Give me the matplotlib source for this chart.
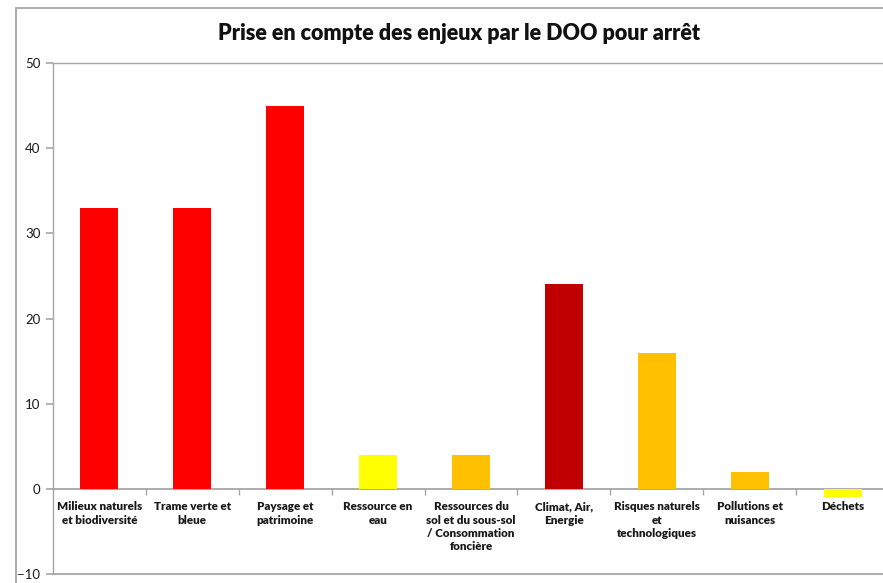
import matplotlib
matplotlib.use("Agg")
import matplotlib.pyplot as plt
from matplotlib.patches import Rectangle
from matplotlib.ticker import FixedLocator

categories = ["Milieux naturels\net biodiversité", "Trame verte et\nbleue", "Paysage et\npatrimoine",
              "Ressource en\neau", "Ressources du\nsol et du sous-sol\n/ Consommation\nfoncière",
              "Climat, Air,\nEnergie", "Risques naturels\net\ntechnologiques", "Pollutions et\nnuisances",
              "Déchets"]
values = [33, 33, 45, 4, 4, 24, 16, 2, -1]
colors = ["#FF0000", "#FF0000", "#FF0000", "#FFFF00", "#FFC000", "#C00000", "#FFC000", "#FFC000", "#FFFF00"]
yticks = [-10, 0, 10, 20, 30, 40, 50]
title = "Prise en compte des enjeux par le DOO pour arrêt"

W, H = 883, 583
fig = plt.figure(figsize=(W / 100, H / 100), dpi=100)
fig.patch.set_facecolor("white")

grey = "#A6A6A6"
fig.patches.append(Rectangle((16 / W, -0.05), 1.2, 1 - 8 / H + 0.05, transform=fig.transFigure,
                             fill=False, edgecolor=grey, linewidth=1.3, zorder=0))

left, right, top, bottom = 53, 889, 63, 574
ax = fig.add_axes([left / W, (H - bottom) / H, (right - left) / W, (bottom - top) / H])
x = list(range(len(categories)))
ax.bar(x, values, width=0.41, color=colors, zorder=3)
ax.set_xlim(-0.5, len(categories) - 0.5)
ax.set_ylim(-10, 50)
ax.set_yticks(yticks)

for s in ["left", "top", "right"]:
    ax.spines[s].set_color(grey)
    ax.spines[s].set_linewidth(1.0)
ax.spines["right"].set_visible(False)
ax.spines["bottom"].set_position(("data", 0))
ax.spines["bottom"].set_color(grey)
ax.spines["bottom"].set_linewidth(1.3)
ax.axhline(-10, color=grey, linewidth=1.3, clip_on=False, zorder=4)

ax.set_xticks(x)
ax.set_xticklabels(categories, fontsize=8.4, fontweight="heavy", family="Lato", color="#1a1a1a",
                   linespacing=1.25, va="top")
ax.tick_params(axis="x", which="major", length=0, pad=9)
ax.xaxis.set_minor_locator(FixedLocator([i + 0.5 for i in x[:-1]]))
ax.tick_params(axis="x", which="minor", length=4, direction="out", color=grey, width=1)
ax.tick_params(axis="y", length=5, direction="out", color=grey, width=1.2, labelsize=9.5,
               labelcolor="#1a1a1a", pad=4)
for lab in ax.get_yticklabels():
    lab.set_family("Lato")

fig.text(459.5 / W, 1 - 33 / H, title, ha="center", va="center", fontsize=15.5,
         fontweight="heavy", family="Lato", color="#111111")

fig.savefig("out.png", dpi=100)
